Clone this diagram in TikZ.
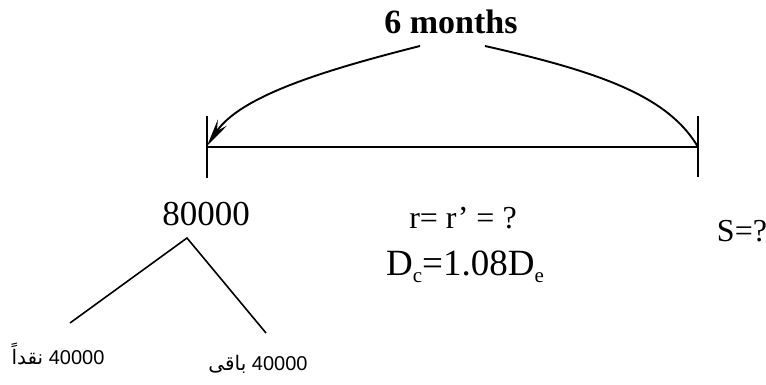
\documentclass[tikz,border=0pt]{standalone}
\usepackage{fontspec}
\setmainfont{Liberation Serif}
\newfontfamily\arabicfont[Script=Arabic]{DejaVu Sans}
\newfontfamily\labelfont{Liberation Sans}
\TeXXeTstate=1
\usetikzlibrary{arrows.meta}
\newcommand{\lowsub}[1]{\raisebox{-7pt}{\fontsize{21}{22}\selectfont #1}}
\begin{document}
\begin{tikzpicture}[x=1pt,y=-1pt,
  ln/.style={line width=1.9pt,black},
  txt/.style={inner sep=0pt,outer sep=0pt,anchor=center},
  arlabel/.style={inner sep=0pt,outer sep=0pt,font=\labelfont\fontsize{20}{22}\selectfont}]
\useasboundingbox (0,0) rectangle (766,385);
% texts
\node[txt,font=\bfseries\fontsize{34}{36}\selectfont] (title) at (451,22) {6 months};
\node[txt,font=\fontsize{35}{38}\selectfont] (p) at (206,214) {80000};
\node[txt,font=\fontsize{32}{36}\selectfont] (r) at (463,218) {r= r’ = ?};
\node[txt,font=\fontsize{32}{36}\selectfont] (s) at (742,231) {S=?};
\node[txt,font=\fontsize{37}{40}\selectfont] (d) at (465,267) {D\lowsub{c}=1.08D\lowsub{e}};
\node[arlabel] (cash) at (58,354) {{\arabicfont\beginR نقداً\endR} 40000};
\node[arlabel] (rest) at (258,364) {{\arabicfont\beginR باقى\endR} 40000};
% time line
\coordinate (lt) at (207,116);
\coordinate (lb) at (207,178);
\coordinate (rt) at (698,116);
\coordinate (rb) at (698,177);
\coordinate (L) at (207,147);
\coordinate (R) at (698,147);
\coordinate (tip) at (207,146);
\coordinate (cl) at (420,46);
\coordinate (cr) at (485,46);
\draw[ln] (lt) -- (lb);
\draw[ln] (rt) -- (rb);
\draw[ln] (L) -- (R);
% curves
\draw[ln,-{Stealth[length=28pt,width=11pt,inset=10pt]}] (cl) .. controls (325,70) and (240,96) .. (tip);
\draw[ln] (cr) .. controls (600,72) and (668,96) .. (R);
% split tree
\coordinate (apex) at (187,238);
\coordinate (le) at (70,323);
\coordinate (re) at (266,333);
\draw[ln,line width=1.6pt] (le) -- (apex) -- (re);
\end{tikzpicture}
\end{document}
